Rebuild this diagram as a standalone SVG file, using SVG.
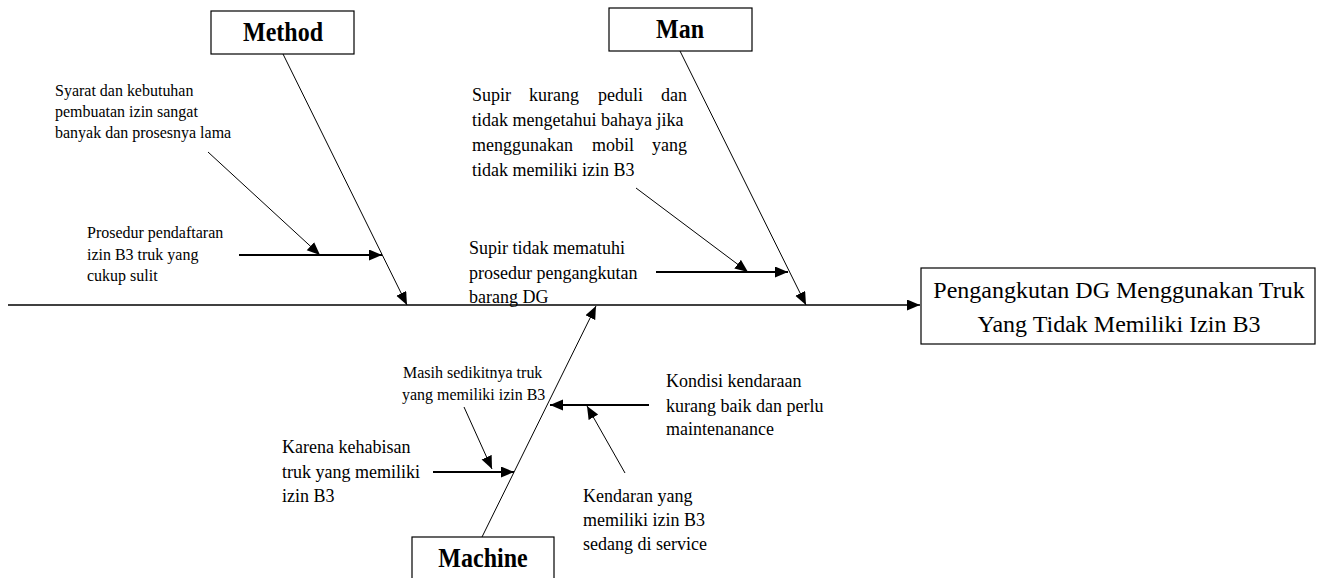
<svg xmlns="http://www.w3.org/2000/svg" width="1317" height="578" viewBox="0 0 1317 578">
  <style>
    .box { fill: #fff; stroke: #000; stroke-width: 1.2; }
    .head { font-family: "Liberation Serif", "Times New Roman", serif; font-weight: bold; font-size: 24px; fill: #000; text-anchor: middle; }
    .effect { font-family: "Liberation Serif", "Times New Roman", serif; font-size: 24px; fill: #000; text-anchor: middle; }
    .s16 { font-family: "Liberation Serif", "Times New Roman", serif; font-size: 16px; fill: #000; }
    .s18 { font-family: "Liberation Serif", "Times New Roman", serif; font-size: 18px; fill: #000; }
    .thin { stroke: #000; stroke-width: 1; fill: none; marker-end: url(#tip); }
    .thick { stroke: #000; stroke-width: 2; fill: none; marker-end: url(#tip); }
    .spine { stroke: #000; stroke-width: 1.5; fill: none; marker-end: url(#tip); }
  </style>
  <defs>
    <marker id="tip" markerUnits="userSpaceOnUse" markerWidth="14" markerHeight="12" refX="13" refY="5.5" orient="auto">
      <path d="M0,0 L13,5.5 L0,11 z" fill="#000"/>
    </marker>
  </defs>

  <rect width="1317" height="578" fill="#fff"/>

  <!-- connectors: spine, category bones and cause arrows -->
  <g id="connectors">
    <line class="spine" x1="8" y1="305" x2="920" y2="305"/>
    <!-- Method bone -->
    <line class="thin" x1="283" y1="54" x2="407" y2="305"/>
    <line class="thick" x1="239" y1="255" x2="382" y2="255"/>
    <line class="thin" x1="208" y1="152" x2="320" y2="255"/>
    <!-- Man bone -->
    <line class="thin" x1="680" y1="51" x2="806" y2="305"/>
    <line class="thick" x1="656" y1="272" x2="788" y2="272"/>
    <line class="thin" x1="636" y1="188" x2="748" y2="272"/>
    <!-- Machine bone -->
    <line class="thin" x1="482" y1="537" x2="596" y2="306"/>
    <line class="thick" x1="649" y1="405" x2="550" y2="405"/>
    <line class="thin" x1="625" y1="473" x2="587" y2="406"/>
    <line class="thick" x1="433" y1="472" x2="514" y2="472"/>
    <line class="thin" x1="464" y1="407" x2="492" y2="469"/>
  </g>

  <!-- effect -->
  <g id="effect">
    <rect class="box" x="921" y="268" width="394" height="76"/>
    <text class="effect" x="1119" y="298">Pengangkutan DG Menggunakan Truk</text>
    <text class="effect" x="1119" y="332">Yang Tidak Memiliki Izin B3</text>
  </g>

  <!-- category heads (slightly tall lettering) -->
  <g id="method">
    <rect class="box" x="211" y="11" width="143" height="43"/>
    <text class="head" transform="translate(283,41) scale(1,1.15)">Method</text>
  </g>
  <g id="man">
    <rect class="box" x="609" y="8" width="143" height="43"/>
    <text class="head" transform="translate(680,38) scale(1,1.15)">Man</text>
  </g>
  <g id="machine">
    <rect class="box" x="412" y="537" width="142" height="50"/>
    <text class="head" transform="translate(483,567) scale(1,1.15)">Machine</text>
  </g>

  <!-- Method causes -->
  <g id="method-cause-1">
    <text class="s16" transform="translate(55,96) scale(1,1.1)">Syarat dan kebutuhan</text>
    <text class="s16" transform="translate(55,117) scale(1,1.1)">pembuatan izin sangat</text>
    <text class="s16" transform="translate(55,138) scale(1,1.1)">banyak dan prosesnya lama</text>
  </g>
  <g id="method-cause-2">
    <text class="s16" transform="translate(87,238) scale(1,1.1)">Prosedur pendaftaran</text>
    <text class="s16" transform="translate(87,260) scale(1,1.1)">izin B3 truk yang</text>
    <text class="s16" transform="translate(87,281) scale(1,1.1)">cukup sulit</text>
  </g>

  <!-- Man causes -->
  <g id="man-cause-1">
    <text class="s18" y="101"><tspan x="472">Supir</tspan><tspan x="529">kurang</tspan><tspan x="598">peduli</tspan><tspan x="661">dan</tspan></text>
    <text class="s18" x="472" y="126">tidak mengetahui bahaya jika</text>
    <text class="s18" y="151"><tspan x="472">menggunakan</tspan><tspan x="592">mobil</tspan><tspan x="652">yang</tspan></text>
    <text class="s18" x="472" y="176">tidak memiliki izin B3</text>
  </g>
  <g id="man-cause-2">
    <text class="s18" x="469" y="254">Supir tidak mematuhi</text>
    <text class="s18" x="469" y="279">prosedur pengangkutan</text>
    <text class="s18" x="469" y="303">barang DG</text>
  </g>

  <!-- Machine causes -->
  <g id="machine-cause-1">
    <text class="s16" transform="translate(403,378) scale(1,1.1)">Masih sedikitnya truk</text>
    <text class="s16" transform="translate(402,400) scale(1,1.1)">yang memiliki izin B3</text>
  </g>
  <g id="machine-cause-2">
    <text class="s18" x="282" y="453">Karena kehabisan</text>
    <text class="s18" x="282" y="478">truk yang memiliki</text>
    <text class="s18" x="282" y="502">izin B3</text>
  </g>
  <g id="machine-cause-3">
    <text class="s18" x="666" y="387">Kondisi kendaraan</text>
    <text class="s18" x="666" y="412">kurang baik dan perlu</text>
    <text class="s18" x="666" y="435">maintenanance</text>
  </g>
  <g id="machine-cause-4">
    <text class="s18" x="583" y="502">Kendaran yang</text>
    <text class="s18" x="583" y="526">memiliki izin B3</text>
    <text class="s18" x="583" y="550">sedang di service</text>
  </g>
</svg>
